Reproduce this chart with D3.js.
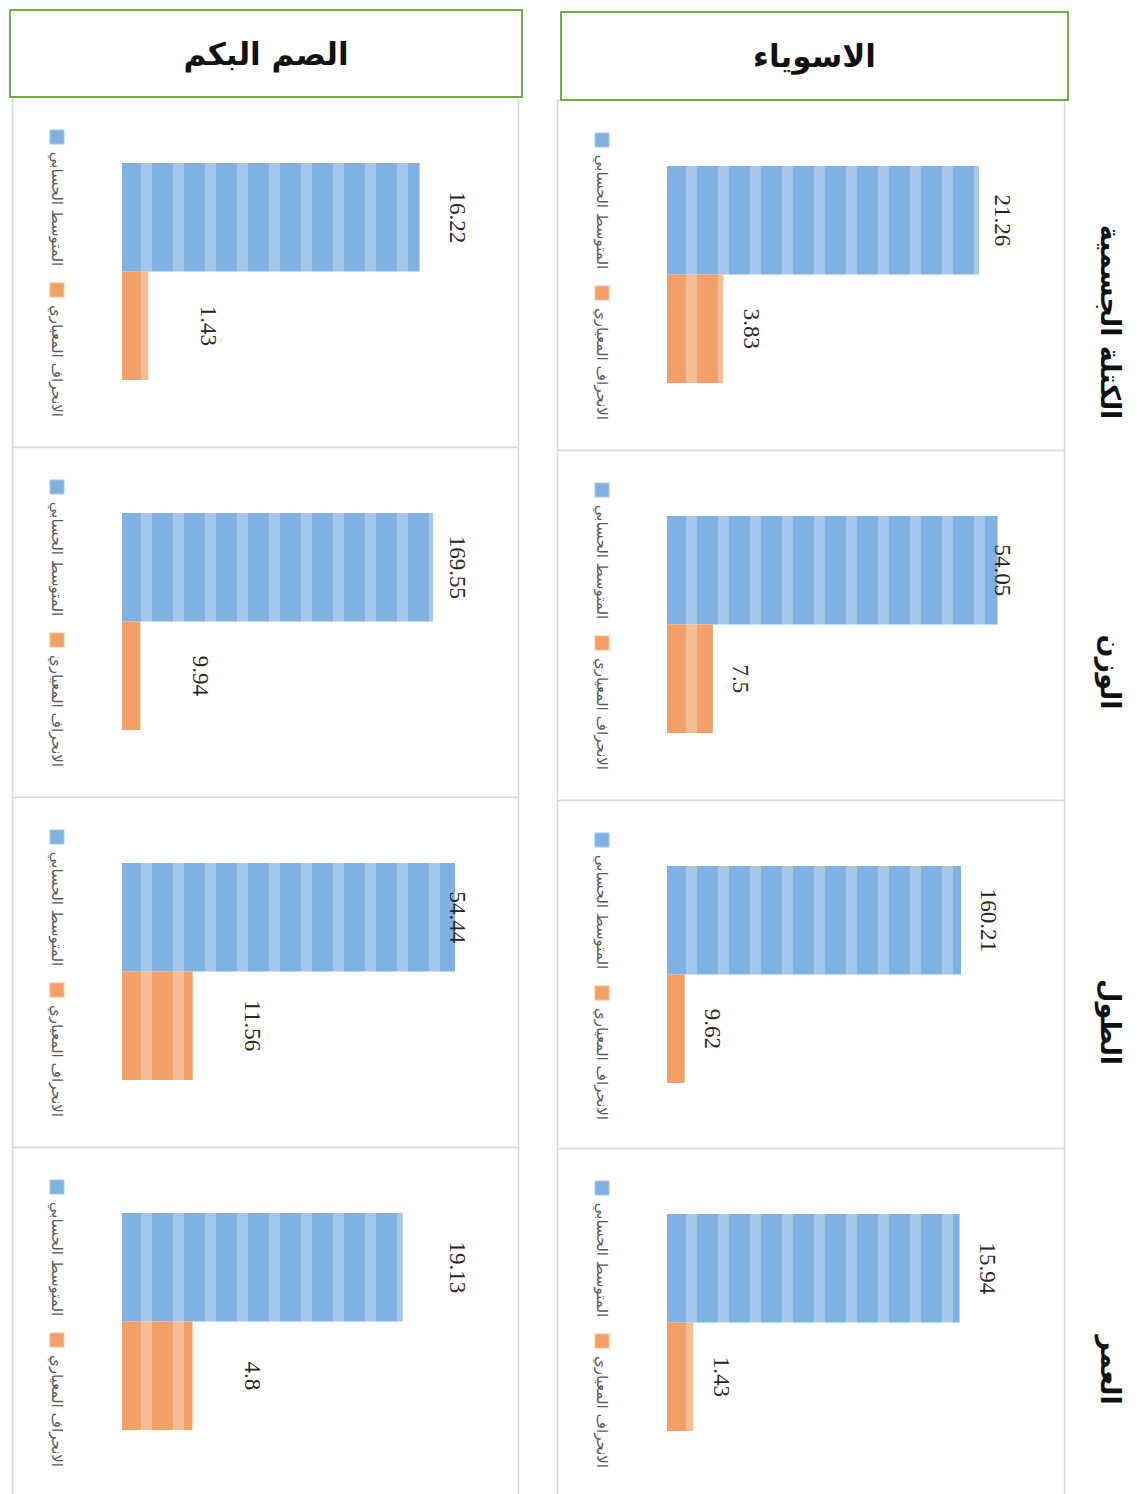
<!DOCTYPE html>
<html lang="ar">
<head>
<meta charset="utf-8">
<script src="https://cdn.jsdelivr.net/npm/d3@7"></script>
<style>
  html, body { margin: 0; padding: 0; background: #ffffff; }
  svg { display: block; }
</style>
</head>
<body>
<svg id="chart" width="1144" height="1494"></svg>
<script>
// Groups (columns) and measures (rows)
const groups = ["الاسوياء", "الصم البكم"];
const measures = ["الكتلة الجسمية", "الوزن", "الطول", "العمر"];
const seriesNames = ["المتوسط الحسابي", "الانحراف المعياري"];

// Mean and standard deviation per measure, one pair of arrays per group
const normalMean = [21.26, 54.05, 160.21, 15.94];
const normalSD   = [3.83, 7.5, 9.62, 1.43];
const deafMean   = [16.22, 169.55, 54.44, 19.13];
const deafSD     = [1.43, 9.94, 11.56, 4.8];

const groupValues = [
  [normalMean, normalSD],
  [deafMean, deafSD]
];

// Layout of the two columns of small charts
const columns = [
  { x: 557, w: 507, tops: [100, 450, 800, 1148], header: { x: 561, y: 12, w: 507, h: 88 }, labelOffset: 28 },
  { x: 12,  w: 506, tops: [97, 447, 797, 1147],  header: { x: 10,  y: 10, w: 512, h: 87 }, labelOffset: 60 }
];
const panelH = 350;
const plotLeft = 110;      // bar baseline, from the panel's left edge
const plotW = 367;         // length of the value axis
const barTop = 66, barBottom = 283;

const colors = {
  blue:   { dark: "#80B1E3", light: "#A5C7EA" },
  orange: { dark: "#F2A065", light: "#F6BE94" }
};
const seriesColor = ["blue", "orange"];

const svg = d3.select("#chart");
const defs = svg.append("defs");

// Vertical stripe fills, anchored on each column's baseline
columns.forEach((col, ci) => {
  const base = col.x + plotLeft;
  Object.entries(colors).forEach(([name, c]) => {
    const p = defs.append("pattern")
      .attr("id", `stripe-${name}-${ci}`)
      .attr("patternUnits", "userSpaceOnUse")
      .attr("x", base).attr("y", 0)
      .attr("width", 32).attr("height", 10);
    p.append("rect").attr("width", 32).attr("height", 10).attr("fill", c.dark);
    p.append("rect").attr("x", 19).attr("width", 11).attr("height", 10).attr("fill", c.light);
  });
});

columns.forEach((col, ci) => {
  const g = svg.append("g");
  const base = col.x + plotLeft;

  col.tops.forEach((top, mi) => {
    const cell = g.append("g");
    // panel frame
    cell.append("rect")
      .attr("x", col.x + 0.5).attr("y", top + 0.5)
      .attr("width", col.w).attr("height", panelH)
      .attr("fill", "#ffffff")
      .attr("stroke", "#D9D9D9").attr("stroke-width", 1.5);

    const vals = [groupValues[ci][0][mi], groupValues[ci][1][mi]];
    const maxV = d3.max(vals);
    const x = d3.scaleLinear()
      .domain([0, maxV * 1.05]).nice(5)
      .range([base, base + plotW]);
    const y = d3.scaleBand()
      .domain(seriesNames)
      .range([top + barTop, top + barBottom]);

    // bars
    cell.selectAll("rect.bar")
      .data(seriesNames.map((s, si) => ({ s, si, v: vals[si] })))
      .join("rect")
      .attr("class", "bar")
      .attr("x", x(0))
      .attr("y", d => y(d.s))
      .attr("width", d => x(d.v) - x(0))
      .attr("height", y.bandwidth())
      .attr("fill", d => `url(#stripe-${seriesColor[d.si]}-${ci})`);

    // value labels, rotated
    const labelMax = base + 335;
    cell.selectAll("text.val")
      .data(seriesNames.map((s, si) => ({ s, si, v: vals[si] })))
      .join("text")
      .attr("class", "val")
      .attr("transform", d => {
        const lx = Math.min(x(d.v) + col.labelOffset, labelMax);
        const ly = y(d.s) + y.bandwidth() / 2;
        return `translate(${lx},${ly}) rotate(90)`;
      })
      .attr("text-anchor", "middle")
      .attr("dominant-baseline", "central")
      .attr("font-family", "'Liberation Serif', 'Times New Roman', serif")
      .attr("font-size", 23)
      .attr("fill", "#262626")
      .text(d => d.v);

    // legend, rotated
    const legX = col.x + 45;
    const legend = [
      { s: seriesNames[0], c: "blue", sq: 33, tc: 112 },
      { s: seriesNames[1], c: "orange", sq: 186, tc: 264 }
    ];
    legend.forEach(l => {
      cell.append("rect")
        .attr("x", legX - 7).attr("y", top + l.sq)
        .attr("width", 14).attr("height", 14)
        .attr("fill", colors[l.c].dark)
        .attr("stroke", colors[l.c].light).attr("stroke-width", 1);
      cell.append("text")
        .attr("transform", `translate(${legX},${top + l.tc}) rotate(90)`)
        .attr("text-anchor", "middle")
        .attr("dominant-baseline", "central")
        .attr("font-family", "'DejaVu Sans', sans-serif")
        .attr("font-size", 15)
        .attr("fill", "#595959")
        .text(l.s);
    });
  });

  // group header box
  g.append("rect")
    .attr("x", col.header.x).attr("y", col.header.y)
    .attr("width", col.header.w).attr("height", col.header.h)
    .attr("fill", "#ffffff")
    .attr("stroke", "#70AD47").attr("stroke-width", 2);
  g.append("text")
    .attr("x", col.header.x + col.header.w / 2)
    .attr("y", col.header.y + col.header.h / 2)
    .attr("text-anchor", "middle")
    .attr("dominant-baseline", "central")
    .attr("font-family", "'DejaVu Sans', sans-serif")
    .attr("font-weight", "bold")
    .attr("font-size", 31)
    .attr("fill", "#111111")
    .text(groups[ci]);
});

// measure names down the right side
svg.append("g").selectAll("text")
  .data(measures)
  .join("text")
  .attr("transform", (d, i) => `translate(1110,${columns[0].tops[i] + 222}) rotate(90)`)
  .attr("text-anchor", "middle")
  .attr("dominant-baseline", "central")
  .attr("font-family", "'DejaVu Sans', sans-serif")
  .attr("font-weight", "bold")
  .attr("font-size", 27)
  .attr("fill", "#111111")
  .text(d => d);
</script>
</body>
</html>
